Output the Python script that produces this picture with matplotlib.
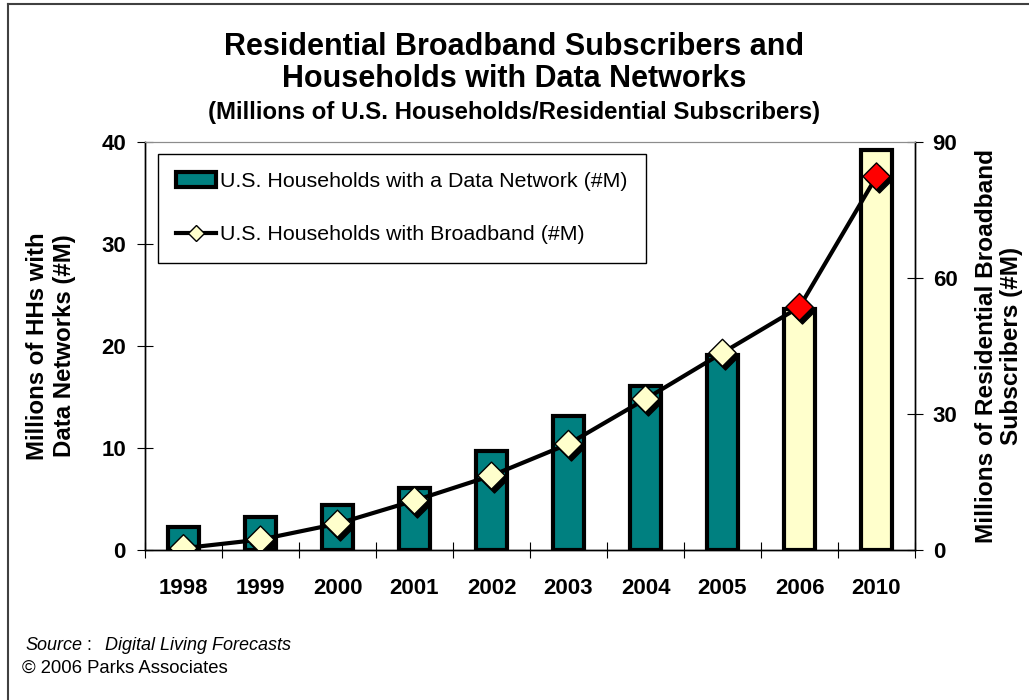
import numpy as np
import matplotlib.pyplot as plt
from matplotlib.lines import Line2D
from matplotlib.patches import Patch
from matplotlib.transforms import offset_copy

plt.rcParams['font.family'] = ['Liberation Sans', 'DejaVu Sans']

years = ['1998', '1999', '2000', '2001', '2002', '2003', '2004', '2005', '2006', '2010']
data_network_hh = [2.3, 3.2, 4.4, 6.1, 9.7, 13.1, 16.1, 19.1, 23.6, 39.2]
broadband_subs = [0.4, 2.3, 5.8, 10.9, 16.4, 23.4, 33.3, 43.5, 53.6, 82.4]
is_forecast = [False, False, False, False, False, False, False, False, True, True]

teal = '#008080'
cream = '#FFFFCC'

W, H = 1029, 700
fig = plt.figure(figsize=(W / 100, H / 100), dpi=100)
ax = fig.add_axes([145/W, 1 - 550/H, 770/W, 408/H])
ax2 = ax.twinx()

x = np.arange(len(years))

# bars: actuals in teal, forecast years in cream
bar_colors = [cream if f else teal for f in is_forecast]
ax.bar(x, data_network_hh, width=0.39, color=bar_colors, edgecolor='black', linewidth=3, zorder=2)

# broadband line with shadowed diamond markers
mk_colors = ['red' if f else cream for f in is_forecast]
ax2.plot(x, broadband_subs, color='black', lw=3, zorder=2)
shadow = offset_copy(ax2.transData, fig=fig, x=3, y=-3, units='dots')
ax2.scatter(x, broadband_subs, marker='D', s=190, color='black', transform=shadow, zorder=3)
ax2.scatter(x, broadband_subs, marker='D', s=190, c=mk_colors, edgecolors='black', linewidths=1, zorder=4)

ax.set_xlim(-0.5, len(years) - 0.5)
ax.set_ylim(0, 40)
ax2.set_ylim(0, 90)
ax.set_yticks([0, 10, 20, 30, 40])
ax2.set_yticks([0, 30, 60, 90])

ax.set_xticks(x)
ax.set_xticklabels(years)
ax.set_xticks(np.arange(len(years) + 1) - 0.5, minor=True)
ax.tick_params(axis='x', which='major', length=0, pad=20, labelsize=16)
ax.tick_params(axis='x', which='minor', direction='inout', length=11.5, width=0.8)
ax.tick_params(axis='y', direction='inout', length=11.5, width=0.8, pad=8, labelsize=16)
ax2.tick_params(axis='y', direction='inout', length=11.5, width=0.8, pad=7, labelsize=16)
for lab in ax.get_xticklabels() + ax.get_yticklabels() + ax2.get_yticklabels():
    lab.set_fontweight('bold')

for a in (ax, ax2):
    a.spines['top'].set_color('#8c8c8c')
    a.spines['left'].set_linewidth(1)
    a.spines['right'].set_linewidth(1)
    a.spines['bottom'].set_linewidth(1)
    a.patch.set_visible(False)

# axis titles
fig.text(51/W, 1 - 346/H, 'Millions of HHs with\nData Networks (#M)', rotation=90,
         ha='center', va='center', fontsize=17.3, fontweight='bold', linespacing=1.2)
fig.text(999/W, 1 - 346/H, 'Millions of Residential Broadband\nSubscribers (#M)', rotation=90,
         ha='center', va='center', fontsize=17.6, fontweight='bold', linespacing=1.15)

handles = [
    Patch(facecolor=teal, edgecolor='black', linewidth=3),
    Line2D([0], [0], color='black', lw=3, marker='D', markersize=8,
           markerfacecolor=cream, markeredgecolor='black', markeredgewidth=1),
]
labels = ['U.S. Households with a Data Network (#M)', 'U.S. Households with Broadband (#M)']
leg = ax2.legend(handles, labels, loc='upper left', bbox_to_anchor=(13/770, 396/408), borderaxespad=0,
                 fontsize=15.4, frameon=True, fancybox=False, edgecolor='black', framealpha=1,
                 borderpad=0.85, labelspacing=1.6, handlelength=1.85, handletextpad=0.2)
leg.get_frame().set_linewidth(1)

fig.text(0.5, 1 - 47/H, 'Residential Broadband Subscribers and',
         ha='center', va='center', fontsize=22, fontweight='bold')
fig.text(0.5, 1 - 79/H, 'Households with Data Networks',
         ha='center', va='center', fontsize=22, fontweight='bold')
fig.text(0.5, 1 - 113/H, '(Millions of U.S. Households/Residential Subscribers)',
         ha='center', va='center', fontsize=17.3, fontweight='bold')

# source line: italic words, upright colon
src = fig.text(25/W, 1 - 645/H, 'Source', ha='left', va='center', fontsize=13, fontstyle='italic')
colon = ax.annotate(':', xy=(1, 0), xycoords=src, xytext=(3, 0), textcoords='offset points',
                    ha='left', va='bottom', fontsize=13, annotation_clip=False)
ax.annotate('Digital Living Forecasts', xy=(1, 0), xycoords=colon, xytext=(10, 0),
            textcoords='offset points', ha='left', va='bottom', fontsize=13,
            fontstyle='italic', annotation_clip=False)
fig.text(22/W, 1 - 668/H, '\u00a9 2006 Parks Associates', ha='left', va='center', fontsize=13.3)

# outer frame (top and left edges visible)
fig.add_artist(Line2D([8/W, 1], [1 - 3.5/H, 1 - 3.5/H], color='#404040', lw=1.5))
fig.add_artist(Line2D([8/W, 8/W], [0, 1 - 3.5/H], color='#404040', lw=1.5))

fig.savefig('out.png', dpi=100)
